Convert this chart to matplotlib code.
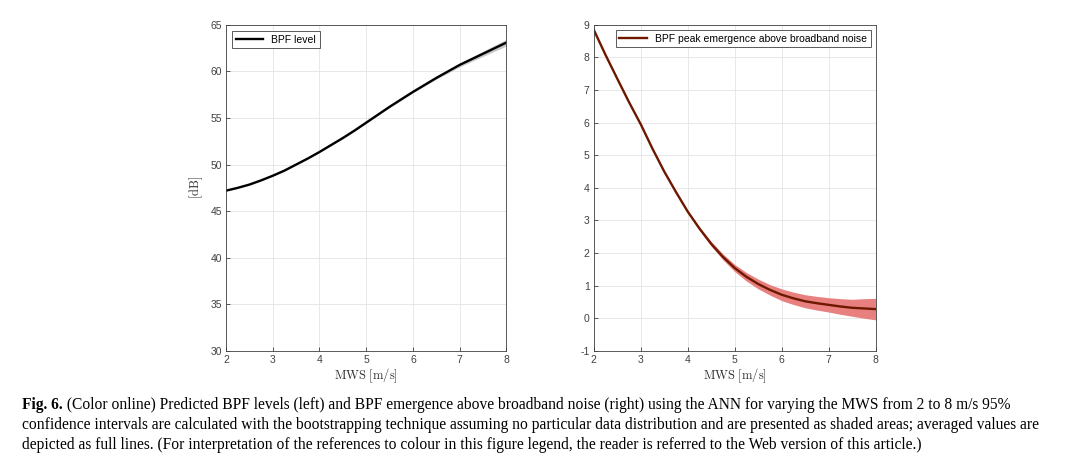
import numpy as np
import matplotlib.pyplot as plt

plt.rcParams['mathtext.fontset'] = 'cm'
plt.rcParams['axes.unicode_minus'] = False

# wind speed grid [m/s]
mws = [2.0, 2.25, 2.5, 2.75, 3.0, 3.25, 3.5, 3.75, 4.0, 4.25, 4.5, 4.75, 5.0,
       5.25, 5.5, 5.75, 6.0, 6.25, 6.5, 6.75, 7.0, 7.25, 7.5, 7.75, 8.0]

# left panel: BPF level [dB] and CI half width
bpf_level = [47.2, 47.5, 47.85, 48.3, 48.8, 49.35, 50.0, 50.65, 51.35, 52.1,
             52.85, 53.65, 54.5, 55.35, 56.2, 57.0, 57.8, 58.55, 59.3, 60.0,
             60.7, 61.3, 61.9, 62.5, 63.1]
bpf_level_ci = [0.05, 0.05, 0.05, 0.05, 0.05, 0.05, 0.05, 0.05, 0.06, 0.06,
                0.07, 0.07, 0.08, 0.08, 0.09, 0.1, 0.1, 0.12, 0.14, 0.17,
                0.2, 0.24, 0.28, 0.32, 0.36]

# right panel: BPF peak emergence [dB] and CI half width
emergence = [8.85, 8.08, 7.35, 6.63, 5.95, 5.2, 4.5, 3.87, 3.27, 2.75, 2.28,
             1.88, 1.54, 1.27, 1.05, 0.87, 0.72, 0.61, 0.52, 0.46, 0.41, 0.36,
             0.32, 0.3, 0.28]
emergence_ci = [0.02, 0.02, 0.02, 0.02, 0.02, 0.02, 0.03, 0.03, 0.04, 0.05,
                0.07, 0.09, 0.11, 0.13, 0.15, 0.16, 0.18, 0.19, 0.2, 0.21,
                0.22, 0.24, 0.26, 0.3, 0.33]

AX_COL = '#404040'
TICK_FONT = 'Liberation Sans'


def style_axes(ax, ylim, yticks):
    ax.set_xlim(2, 8)
    ax.set_ylim(*ylim)
    ax.set_xticks(range(2, 9))
    ax.set_yticks(yticks)
    ax.grid(True, color='#e4e4e4', lw=0.6)
    ax.set_axisbelow(True)
    for s in ax.spines.values():
        s.set_color(AX_COL)
        s.set_linewidth(0.6)
    ax.tick_params(direction='in', length=3, width=0.6, colors=AX_COL,
                   labelsize=7.5, top=False, right=False, pad=3)
    for lab in ax.get_xticklabels() + ax.get_yticklabels():
        lab.set_fontfamily(TICK_FONT)
    ax.set_xlabel(r'$\mathrm{MWS\ [m/s]}$', fontsize=9, color='#303030',
                  labelpad=1)


fig = plt.figure(figsize=(10.66, 4.61), dpi=100)
ax1 = fig.add_axes([0.212, 0.239, 0.263, 0.707])
ax2 = fig.add_axes([0.557, 0.239, 0.2645, 0.707])

x = np.array(mws)
y1 = np.array(bpf_level)
c1 = np.array(bpf_level_ci)
ax1.fill_between(x, y1 - c1, y1 + c1, color='#c8c8c8', lw=0)
ax1.plot(x, y1, color='black', lw=1.7, solid_joinstyle='round',
         label='BPF level')
style_axes(ax1, (30, 65), range(30, 66, 5))
ax1.set_ylabel(r'$\mathrm{[dB]}$', fontsize=9, color='#303030', labelpad=4)
leg = ax1.legend(loc='upper left', prop={'family': TICK_FONT, 'size': 7.5},
                 fancybox=False, edgecolor=AX_COL, framealpha=1,
                 handlelength=2.6, borderpad=0.35, borderaxespad=0.6)
leg.get_frame().set_linewidth(0.6)

y2 = np.array(emergence)
c2 = np.array(emergence_ci)
ax2.fill_between(x, y2 - c2, y2 + c2, color='#e88080', lw=0)
ax2.plot(x, y2, color='#6e1800', lw=1.7, solid_joinstyle='round',
         label='BPF peak emergence above broadband noise')
style_axes(ax2, (-1, 9), range(-1, 10))
leg = ax2.legend(loc='upper right', prop={'family': TICK_FONT, 'size': 7.5},
                 fancybox=False, edgecolor=AX_COL, framealpha=1,
                 handlelength=2.6, borderpad=0.35, borderaxespad=0.5)
leg.get_frame().set_linewidth(0.6)

# caption
cap_font = 'Liberation Serif'
cap_size = 11.2
line1 = ('(Color online) Predicted BPF levels (left) and BPF emergence above broadband '
         'noise (right) using the ANN for varying the MWS from 2 to 8 m/s 95%')
line2 = ('confidence intervals are calculated with the bootstrapping technique assuming '
         'no particular data distribution and are presented as shaded areas; averaged values are')
line3 = ('depicted as full lines. (For interpretation of the references to colour in this '
         'figure legend, the reader is referred to the Web version of this article.)')
bold = fig.text(22 / 1066, 1 - 409 / 461, 'Fig. 6.', fontfamily=cap_font,
                fontsize=cap_size, fontweight='bold', va='baseline')
fig.canvas.draw()
bb = bold.get_window_extent()
fig.text(bb.x1 / fig.bbox.width, 1 - 409 / 461, ' ' + line1, fontfamily=cap_font,
         fontsize=cap_size, va='baseline')
fig.text(22 / 1066, 1 - 429 / 461, line2, fontfamily=cap_font, fontsize=cap_size,
         va='baseline')
fig.text(22 / 1066, 1 - 449 / 461, line3, fontfamily=cap_font, fontsize=cap_size,
         va='baseline')

fig.savefig('out.png', dpi=100)
